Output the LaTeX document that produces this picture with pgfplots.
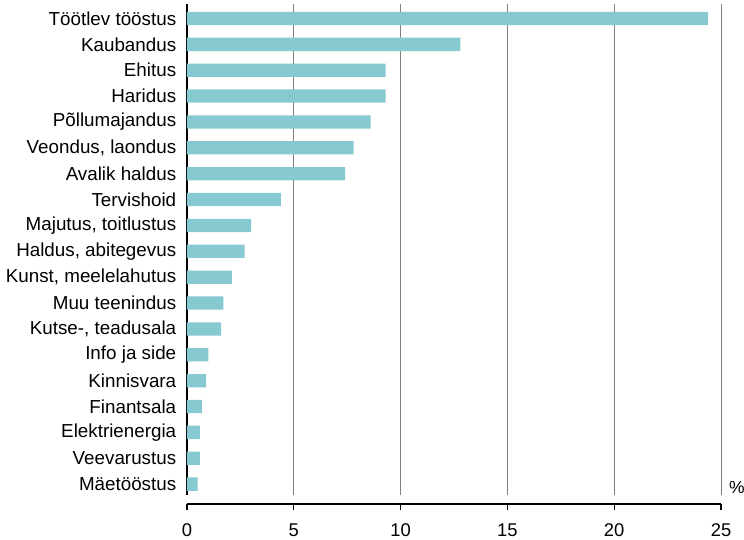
\documentclass[border=0pt]{standalone}
\usepackage{pgfplots}
\pgfplotsset{compat=1.18}
\usepackage{fontspec}
\setmainfont{Liberation Sans}
\definecolor{barc}{HTML}{86C9D0}
\definecolor{gridc}{HTML}{7F7F7F}
\begin{document}
\begin{tikzpicture}
\begin{axis}[
  scale only axis, width=534pt, height=491pt,
  xmin=0, xmax=25, ymin=-0.42, ymax=18.56,
  clip=false,
  xtick={0,5,10,15,20,25},
  xticklabels={},
  ytick={0,...,18},
  yticklabels={Mäetööstus, Veevarustus, Elektrienergia, Finantsala, Kinnisvara, Info ja side, {Kutse-, teadusala}, Muu teenindus, {Kunst, meelelahutus}, {Haldus, abitegevus}, {Majutus, toitlustus}, Tervishoid, Avalik haldus, {Veondus, laondus}, Põllumajandus, Haridus, Ehitus, Kaubandus, Töötlev tööstus},
  axis x line*=bottom, axis y line*=left,
  x axis line style={draw=none},
  y axis line style={black, line width=1.1pt},
  xmajorgrids,
  major grid style={gridc, line width=1pt},
  x tick style={draw=none},
  y tick style={draw=none},
  yticklabel style={font=\fontsize{18.8}{22}\selectfont, xshift=-3pt},
  xbar, bar width=13.3pt,
]
\addplot[fill=barc, draw=none] coordinates {
(24.4,18) (12.8,17) (9.3,16) (9.3,15) (8.6,14) (7.8,13) (7.4,12) (4.4,11) (3.0,10) (2.7,9) (2.1,8) (1.7,7) (1.6,6) (1.0,5) (0.9,4) (0.7,3) (0.6,2) (0.6,1) (0.5,0)
};
\coordinate (o) at (rel axis cs:0,0);
\node[anchor=base west, inner sep=0pt, font=\fontsize{17.5}{22}\selectfont] at ([shift={(8pt,1.5pt)}]rel axis cs:1,0) {\%};
\end{axis}
\begin{axis}[
  at={(0pt,-9pt)}, anchor=south west,
  scale only axis, width=534pt, height=1pt,
  xmin=0, xmax=25, ymin=0, ymax=1,
  xtick={0,5,10,15,20,25},
  ytick=\empty,
  axis x line*=bottom, hide y axis,
  x axis line style={black, line width=1.1pt},
  tick align=outside,
  major tick length=6pt,
  x tick style={black, line width=1.1pt},
  xticklabel style={font=\fontsize{18.4}{22}\selectfont, yshift=-10pt},
  /pgf/number format/assume math mode=true,
]
\addplot[draw=none] coordinates {(0,0)};
\end{axis}
\pgfresetboundingbox
\path ([shift={(-187pt,-44pt)}]o) rectangle ([shift={(557pt,495pt)}]o);
\end{tikzpicture}
\end{document}
